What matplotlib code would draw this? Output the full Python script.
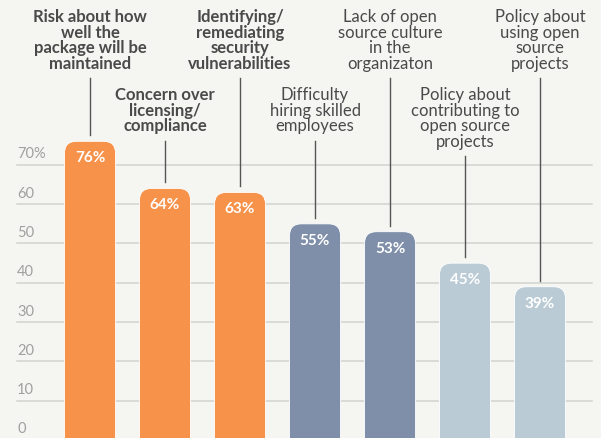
import matplotlib
matplotlib.use("Agg")
import matplotlib.pyplot as plt
from matplotlib.patches import FancyBboxPatch

# data
categories = ["Risk about how\nwell the\npackage will be\nmaintained",
              "Concern over\nlicensing/\ncompliance",
              "Identifying/\nremediating\nsecurity\nvulnerabilities",
              "Difficulty\nhiring skilled\nemployees",
              "Lack of open\nsource culture\nin the\norganizaton",
              "Policy about\ncontributing to\nopen source\nprojects",
              "Policy about\nusing open\nsource\nprojects"]
values = [76, 64, 63, 55, 53, 45, 39]
bold_label = [True, True, True, False, False, False, False]
y_ticks = [0, 10, 20, 30, 40, 50, 60, 70]
y_tick_labels = ["0", "10", "20", "30", "40", "50", "60", "70%"]

bar_colors = ["#F7924B", "#F7924B", "#F7924B", "#7F8FA9", "#7F8FA9", "#BACBD5", "#BACBD5"]
bg = "#F5F5F1"

W, H = 601, 438
fig = plt.figure(figsize=(W / 100, H / 100), dpi=100, facecolor=bg)
ax = fig.add_axes([0, 0, 1, 1])
ax.set_facecolor(bg)
ax.axis("off")

# pixel layout: bar centres at 90 + 75*i, zero line at y=440px, 3.93 px per unit
px_x = 75.0
px_y = 3.93
x0 = 90.0
zero_px = 440.0
ax.set_xlim(-x0 / px_x, (W - x0) / px_x)
ax.set_ylim((zero_px - H) / px_y, zero_px / px_y)

def py(pix):
    # figure pixel (from top) -> data y
    return (zero_px - pix) / px_y

# gridlines
for t, lab in zip(y_ticks, y_tick_labels):
    ax.axhline(t, xmin=17 / W, xmax=592 / W, color="#D2D2CF", lw=1.1, zorder=1)
    ax.text(17 / W, t + 0.9, lab, transform=ax.get_yaxis_transform(),
            ha="left", va="bottom", fontsize=10.5, color="#A0A0A0",
            family="Lato")

# bars with rounded tops
bw = 51 / px_x
r = 12 / px_x
for i, (v, c) in enumerate(zip(values, bar_colors)):
    p = FancyBboxPatch((i - bw / 2, -10), bw, v + 10,
                       boxstyle="round,pad=0,rounding_size=%f" % r,
                       mutation_aspect=px_x / px_y,
                       fc=c, ec="#ffffff", lw=0.6, alpha=1, zorder=2)
    ax.add_patch(p)
    ax.text(i, v - 17 / px_y, "%d%%" % v, ha="center", va="center",
            fontsize=11, color="white", fontweight="bold", family="Lato",
            zorder=3)

# category labels with leader lines
for i, (lab, v, b) in enumerate(zip(categories, values, bold_label)):
    top_px = 9 if i % 2 == 0 else 87
    ax.text(i, py(top_px), lab, ha="center", va="top", fontsize=12,
            linespacing=0.98, color="#4A4A4A", family="Lato",
            fontweight="bold" if b else "normal")
    nlines = lab.count("\n") + 1
    line_start = top_px + nlines * 15.3 + 8
    line_end = zero_px - v * px_y - 6
    ax.plot([i, i], [py(line_start), py(line_end)], color="#555555",
            lw=1.0, zorder=1)

fig.savefig("out.png", dpi=100, facecolor=bg)
